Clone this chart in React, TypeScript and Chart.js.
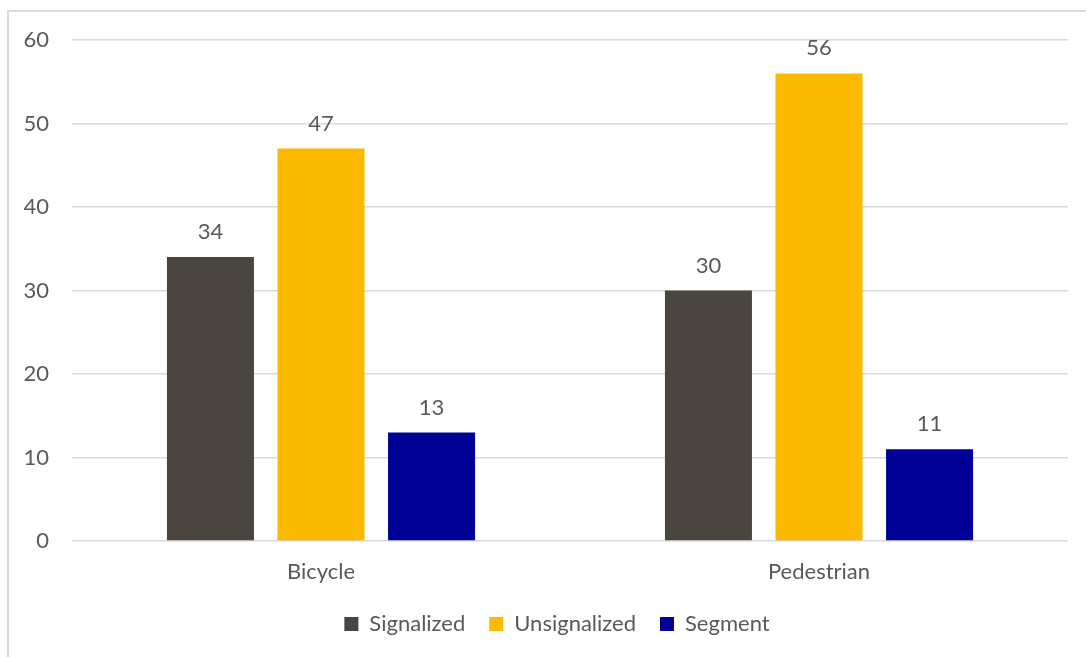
import React, { useEffect, useRef } from "react";
import { Chart, registerables } from "chart.js";

Chart.register(...registerables);

const categories = ["Bicycle", "Pedestrian"];
const seriesNames = ["Signalized", "Unsignalized", "Segment"];
const signalized = [34, 30];
const unsignalized = [47, 56];
const segment = [13, 11];
const colors = ["#4a463f", "#fbba00", "#000096"];
const yTicks = [0, 10, 20, 30, 40, 50, 60];

const FONT = "Lato, 'Open Sans', sans-serif";
const TEXT = "#595959";

const borderPlugin = {
  id: "frame",
  beforeDraw(chart: any) {
    const ctx = chart.ctx;
    ctx.save();
    ctx.strokeStyle = "#d9d9d9";
    ctx.lineWidth = 2;
    ctx.strokeRect(8, 11, chart.width + 20, chart.height + 20);
    ctx.restore();
  },
};

const shiftLegend = {
  id: "shiftLegend",
  afterLayout(chart: any) {
    const lg = chart.legend;
    if (lg) {
      lg.left += 23;
      lg.right += 23;
    }
  },
};

const valueLabels = {
  id: "valueLabels",
  afterDatasetsDraw(chart: any) {
    const ctx = chart.ctx;
    ctx.save();
    ctx.font = `22px ${FONT}`;
    ctx.fillStyle = TEXT;
    ctx.textAlign = "center";
    ctx.textBaseline = "middle";
    chart.data.datasets.forEach((ds: any, i: number) => {
      const meta = chart.getDatasetMeta(i);
      meta.data.forEach((bar: any, j: number) => {
        ctx.fillText(String(ds.data[j]), bar.x, bar.y - 25);
      });
    });
    ctx.restore();
  },
};

export default function App() {
  const ref = useRef<HTMLCanvasElement>(null);
  useEffect(() => {
    const values = [signalized, unsignalized, segment];
    const chart = new Chart(ref.current!, {
      type: "bar",
      data: {
        labels: categories,
        datasets: seriesNames.map((name, i) => ({
          label: name,
          data: values[i],
          backgroundColor: colors[i],
          borderWidth: 0,
          categoryPercentage: 0.666,
          barPercentage: 0.787,
        })),
      },
      options: {
        animation: false,
        responsive: false,
        maintainAspectRatio: false,
        layout: { padding: { top: 40, right: 18, bottom: 12, left: 0 } },
        plugins: {
          legend: {
            position: "bottom",
            labels: {
              boxWidth: 14,
              boxHeight: 14,
              padding: 24,
              color: TEXT,
              font: { family: FONT, size: 22 },
            },
          },
          tooltip: { enabled: false },
        },
        scales: {
          x: {
            grid: { display: false, drawTicks: false },
            border: { display: false },
            ticks: { color: TEXT, font: { family: FONT, size: 22 }, padding: 18 },
            afterFit: (s: any) => {
              s.height = 48;
            },
          },
          y: {
            min: 0,
            max: 60,
            afterBuildTicks: (s: any) => {
              s.ticks = yTicks.map((v) => ({ value: v }));
            },
            grid: { color: "#d9d9d9", lineWidth: 1.5, drawTicks: false },
            border: { display: false },
            ticks: { color: TEXT, font: { family: FONT, size: 22 }, padding: 23 },
            afterFit: (s: any) => {
              s.width = 72;
            },
          },
        },
      },
      plugins: [borderPlugin, shiftLegend, valueLabels],
    });
    return () => chart.destroy();
  }, []);
  return (
    <div style={{ position: "fixed", left: 0, top: 0, width: 1086, height: 657, background: "#fff" }}>
      <canvas ref={ref} width={1086} height={657} style={{ display: "block" }} />
    </div>
  );
}
